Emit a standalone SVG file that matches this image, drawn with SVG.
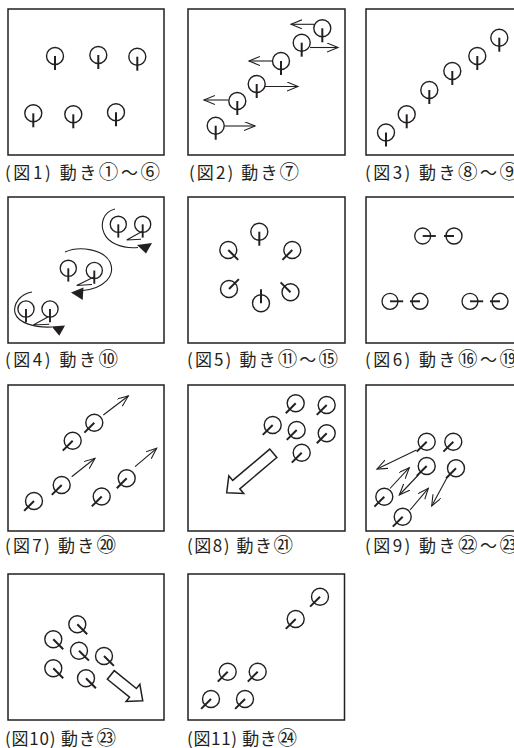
<svg xmlns="http://www.w3.org/2000/svg" xmlns:xlink="http://www.w3.org/1999/xlink" width="514" height="748" viewBox="0 0 514 748">
<style>
.box{fill:none;stroke:#231f20;stroke-width:1.5}
.c{fill:none;stroke:#231f20;stroke-width:1.4}
.s{stroke:#231f20;stroke-width:2;stroke-linecap:butt}
.a{fill:none;stroke:#231f20;stroke-width:1.1;marker-end:url(#oh)}
.ln{fill:none;stroke:#231f20;stroke-width:1.1}
.big{fill:#fff;stroke:#231f20;stroke-width:1.5;stroke-linejoin:miter}
.tri{fill:#231f20;stroke:none}
.cap{font-family:"Noto Sans CJK JP","Noto Sans",sans-serif;font-size:17px;fill:#231f20}
.n{font-size:19.5px}
</style>
<defs>
<g id="p"><circle r="8.5" class="c"/><line x1="0" y1="0" x2="0" y2="14" class="s"/></g>
<g id="q"><circle r="8" class="c"/><line x1="0" y1="0" x2="0" y2="10" class="s"/></g>
<marker id="oh" markerWidth="14" markerHeight="12" refX="11" refY="4.5" orient="auto" markerUnits="userSpaceOnUse">
<path d="M0,0 L11,4.5 L0,9" fill="none" stroke="#231f20" stroke-width="1.1"/>
</marker>
</defs>
<rect width="514" height="748" fill="#fff"/>

<g id="fig1">
<rect class="box" x="8" y="9" width="156" height="146"/>
<use href="#p" transform="translate(55,56)"/>
<use href="#p" transform="translate(98.3,55)"/>
<use href="#p" transform="translate(137.3,56.7)"/>
<use href="#p" transform="translate(33.3,113.3)"/>
<use href="#p" transform="translate(73.3,114.3)"/>
<use href="#p" transform="translate(116,112.3)"/>
<text class="cap" x="5" y="179" textLength="155" lengthAdjust="spacing">(図1) 動き<tspan class="n">①</tspan>〜<tspan class="n">⑥</tspan></text>
</g>

<g id="fig2">
<rect class="box" x="188" y="9" width="157" height="146"/>
<use href="#p" transform="translate(215.7,125.7)"/>
<use href="#p" transform="translate(237.3,101)"/>
<use href="#p" transform="translate(256.7,84)"/>
<use href="#p" transform="translate(281,61)"/>
<use href="#p" transform="translate(301.7,42.7)"/>
<use href="#p" transform="translate(322.3,28.3)"/>
<g id="fig2-arrows">
<line class="a" x1="224.5" y1="126" x2="255" y2="126"/>
<line class="a" x1="228.5" y1="100" x2="204" y2="100"/>
<line class="a" x1="265" y1="86.5" x2="298" y2="86.5"/>
<line class="a" x1="272.5" y1="61" x2="249" y2="61"/>
<line class="a" x1="310" y1="47.5" x2="338" y2="47.5"/>
<line class="a" x1="314" y1="24.3" x2="291" y2="24.3"/>
</g>
<text class="cap" x="189" y="179" textLength="110" lengthAdjust="spacing">(図2) 動き<tspan class="n">⑦</tspan></text>
</g>

<g id="fig3">
<rect class="box" x="366" y="9" width="157" height="146"/>
<use href="#p" transform="translate(386,132.5)"/>
<use href="#p" transform="translate(406.7,114.3)"/>
<use href="#p" transform="translate(429.3,90)"/>
<use href="#p" transform="translate(452.3,71)"/>
<use href="#p" transform="translate(477.3,56)"/>
<use href="#p" transform="translate(499.3,37.7)"/>
<text class="cap" x="365" y="179" textLength="154" lengthAdjust="spacing">(図3) 動き<tspan class="n">⑧</tspan>〜<tspan class="n">⑨</tspan></text>
</g>

<g id="fig4">
<rect class="box" x="8" y="197" width="156" height="146"/>
<use href="#p" transform="translate(118.3,224.3) scale(0.95)"/>
<use href="#p" transform="translate(142.7,224.3) scale(0.95)"/>
<path class="ln" d="M115,209 C103,212 100,224 104,233 C108,243 122,249 138,247.5"/>
<polygon class="tri" points="137,245 152,243 146,253.5"/>
<polyline class="ln" points="142,231.5 126.7,240 141,239.3"/>

<use href="#p" transform="translate(68.3,268.3) scale(0.95)"/>
<use href="#p" transform="translate(94.3,270.5) scale(0.95)"/>
<path class="ln" d="M65,252 C80,245 104,250 110,262 C116,276 104,288 83,290.5"/>
<polygon class="tri" points="71,292.5 83.5,287.5 82.7,300"/>
<polyline class="ln" points="95,276.5 76.7,285.5 92,284.5"/>

<use href="#p" transform="translate(26,309) scale(0.95)"/>
<use href="#p" transform="translate(50,309) scale(0.95)"/>
<path class="ln" d="M32,292 C20,294 13,304 15,313 C18,323 35,328 52,327"/>
<polygon class="tri" points="51.7,326.5 65,325.5 59.3,335.7"/>
<polyline class="ln" points="48.3,316.7 33.3,325 49.3,324.3"/>
<text class="cap" x="5" y="366" textLength="113" lengthAdjust="spacing">(図4) 動き<tspan class="n">⑩</tspan></text>
</g>

<g id="fig5">
<rect class="box" x="188" y="197" width="157" height="146"/>
<use href="#p" transform="translate(259.3,231.7)"/>
<use href="#p" transform="translate(292.3,250) rotate(45)"/>
<use href="#p" transform="translate(228.3,250) rotate(-45)"/>
<use href="#p" transform="translate(229,289) rotate(-135)"/>
<use href="#p" transform="translate(261,303.3) rotate(180)"/>
<use href="#p" transform="translate(290.5,292.3) rotate(135)"/>
<text class="cap" x="187" y="366" textLength="151" lengthAdjust="spacing">(図5) 動き<tspan class="n">⑪</tspan>〜<tspan class="n">⑮</tspan></text>
</g>

<g id="fig6">
<rect class="box" x="366" y="197" width="157" height="146"/>
<use href="#p" transform="translate(422.7,236) rotate(-90) scale(0.94)"/>
<use href="#q" transform="translate(454,236) rotate(90)"/>
<use href="#p" transform="translate(390,301.3) rotate(-90) scale(0.94)"/>
<use href="#q" transform="translate(420,301.3) rotate(90)"/>
<use href="#p" transform="translate(470,301.3) rotate(-90) scale(0.94)"/>
<use href="#q" transform="translate(500,301.3) rotate(90)"/>
<text class="cap" x="365" y="366" textLength="154" lengthAdjust="spacing">(図6) 動き<tspan class="n">⑯</tspan>〜<tspan class="n">⑲</tspan></text>
</g>

<g id="fig7">
<rect class="box" x="8" y="385" width="156" height="146"/>
<use href="#p" transform="translate(72.7,440.7) rotate(45)"/>
<use href="#p" transform="translate(94.3,422.7) rotate(45)"/>
<use href="#p" transform="translate(34,501) rotate(45)"/>
<use href="#p" transform="translate(61.7,485) rotate(45)"/>
<use href="#p" transform="translate(101.7,496.5) rotate(45)"/>
<use href="#p" transform="translate(126.7,478.3) rotate(45)"/>
<g id="fig7-arrows">
<line class="a" x1="103.3" y1="415" x2="128.3" y2="396"/>
<line class="a" x1="71.7" y1="476.7" x2="95" y2="458.3"/>
<line class="a" x1="135" y1="466.7" x2="156.7" y2="448.3"/>
</g>
<text class="cap" x="5" y="552" textLength="111" lengthAdjust="spacing">(図7) 動き<tspan class="n">⑳</tspan></text>
</g>

<g id="fig8">
<rect class="box" x="188" y="385" width="157" height="146"/>
<use href="#p" transform="translate(295.7,403.3) rotate(45)"/>
<use href="#p" transform="translate(326.7,405) rotate(45)"/>
<use href="#p" transform="translate(272.7,425) rotate(45)"/>
<use href="#p" transform="translate(296.7,430) rotate(45)"/>
<use href="#p" transform="translate(326.7,433.3) rotate(45)"/>
<use href="#p" transform="translate(301.7,452.7) rotate(45)"/>
<polygon class="big" transform="translate(226.7,492.7) rotate(139.8)" points="0,0 -12.5,-11.5 -12.5,-5.5 -61,-5.5 -61,5.5 -12.5,5.5 -12.5,11.5"/>
<text class="cap" x="187" y="552" textLength="106" lengthAdjust="spacing">(図8) 動き<tspan class="n">㉑</tspan></text>
</g>

<g id="fig9">
<rect class="box" x="366" y="385" width="157" height="146"/>
<use href="#p" transform="translate(426.7,441.7) rotate(45)"/>
<use href="#p" transform="translate(453.3,441.7) rotate(45)"/>
<use href="#p" transform="translate(426.7,466) rotate(45)"/>
<use href="#p" transform="translate(456,468.3) rotate(45)"/>
<use href="#p" transform="translate(384.3,496.7) rotate(45)"/>
<use href="#p" transform="translate(402.7,516.7) rotate(45)"/>
<g id="fig9-arrows">
<line class="a" x1="416.5" y1="450" x2="377" y2="469"/>
<line class="a" x1="390" y1="488.5" x2="409.3" y2="467.7"/>
<line class="a" x1="418.3" y1="475" x2="399.3" y2="495"/>
<line class="a" x1="410" y1="510" x2="428.3" y2="488.3"/>
<line class="a" x1="446.7" y1="478.3" x2="431.7" y2="506"/>
</g>
<text class="cap" x="365" y="552" textLength="154" lengthAdjust="spacing">(図9) 動き<tspan class="n">㉒</tspan>〜<tspan class="n">㉓</tspan></text>
</g>

<g id="fig10">
<rect class="box" x="8" y="574" width="156" height="146"/>
<use href="#p" transform="translate(77.3,624.3) rotate(-45)"/>
<use href="#p" transform="translate(53.3,639.3) rotate(-45)"/>
<use href="#p" transform="translate(79,650.7) rotate(-45)"/>
<use href="#p" transform="translate(104,656) rotate(-45)"/>
<use href="#p" transform="translate(53.3,668.3) rotate(-45)"/>
<use href="#p" transform="translate(86,678.3) rotate(-45)"/>
<polygon class="big" transform="translate(142.7,700.7) rotate(38.9)" points="0,0 -12.5,-11 -12.5,-5.5 -41,-5.5 -41,5.5 -12.5,5.5 -12.5,11"/>
<text class="cap" x="5" y="745" textLength="111" lengthAdjust="spacing">(図10) 動き<tspan class="n">㉓</tspan></text>
</g>

<g id="fig11">
<rect class="box" x="188" y="574" width="156.5" height="146"/>
<use href="#p" transform="translate(320,596.7) rotate(45)"/>
<use href="#p" transform="translate(295.7,619) rotate(45)"/>
<use href="#p" transform="translate(227.7,671.7) rotate(45)"/>
<use href="#p" transform="translate(257.7,671.7) rotate(45)"/>
<use href="#p" transform="translate(211,699) rotate(45)"/>
<use href="#p" transform="translate(245,699) rotate(45)"/>
<text class="cap" x="187" y="745" textLength="110" lengthAdjust="spacing">(図11) 動き<tspan class="n">㉔</tspan></text>
</g>
</svg>
